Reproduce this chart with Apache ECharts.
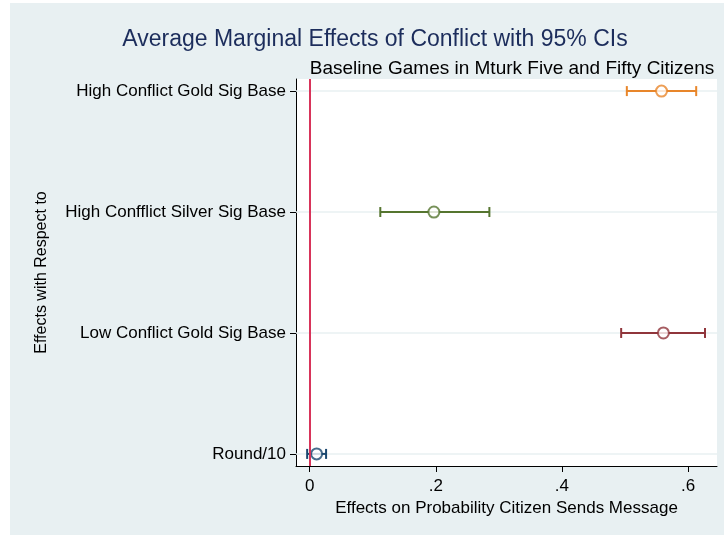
<!DOCTYPE html>
<html>
<head>
<meta charset="UTF-8">
<title>Average Marginal Effects</title>
<script src="https://cdn.jsdelivr.net/npm/echarts@6/dist/echarts.min.js"></script>
<style>
html, body { margin: 0; padding: 0; background: #fff; }
#chart { width: 724px; height: 535px; }
</style>
</head>
<body>
<div id="chart"></div>
<script type="text/javascript">
// categories, top to bottom (y positions 1..4)
var categories = ['High Conflict Gold Sig Base', 'High Confflict Silver Sig Base', 'Low Conflict Gold Sig Base', 'Round/10'];
var positions = [1, 2, 3, 4];
var estimates = [0.558, 0.197, 0.561, 0.011];
var lowerCI = [0.503, 0.112, 0.494, -0.004];
var upperCI = [0.613, 0.285, 0.627, 0.026];
var xTicks = [0, 0.2, 0.4, 0.6];
var xTickLabels = ['0', '.2', '.4', '.6'];
var colors = ['#e8862a', '#55752f', '#90353b', '#1a476f'];

var font = 'Liberation Sans, Arial, Helvetica, sans-serif';
var myChart = echarts.init(document.getElementById('chart'));

var barData = [];
var pointData = [];
for (var i = 0; i < categories.length; i++) {
	barData.push({ value: [positions[i], lowerCI[i], upperCI[i]], itemStyle: { color: colors[i] } });
	pointData.push({ value: [estimates[i], positions[i]], itemStyle: { borderColor: colors[i] } });
}

var option = {
	backgroundColor: '#fff',
	animation: false,
	graphic: [{
		type: 'rect',
		left: 10, top: 3,
		shape: { width: 714, height: 532 },
		style: { fill: '#e8f0f2' },
		z: -10
	}],
	title: [{
		text: 'Average Marginal Effects of Conflict with 95% CIs',
		left: 370, top: 23, textAlign: 'center',
		textStyle: { fontFamily: font, fontSize: 23, fontWeight: 'normal', color: '#1c2d5c' }
	}, {
		text: 'Baseline Games in Mturk Five and Fifty Citizens',
		left: 507, top: 54, textAlign: 'center',
		textStyle: { fontFamily: font, fontSize: 19, fontWeight: 'normal', color: '#000' }
	}],
	grid: {
		left: 296, right: 7, top: 79, bottom: 69,
		show: true, backgroundColor: '#fff', borderWidth: 0
	},
	xAxis: {
		type: 'value',
		min: -0.0217, max: 0.646,
		name: 'Effects on Probability Citizen Sends Message',
		nameLocation: 'middle', nameGap: 32,
		nameTextStyle: { fontFamily: font, fontSize: 17, color: '#000' },
		axisLine: { show: true, onZero: false, lineStyle: { color: '#000', width: 1 } },
		axisTick: { show: true, length: 6, customValues: xTicks, lineStyle: { color: '#000' } },
		axisLabel: {
			customValues: xTicks, margin: 12,
			fontFamily: font, fontSize: 17, color: '#000',
			formatter: function (v) {
				var k = xTicks.indexOf(v);
				return k >= 0 ? xTickLabels[k] : '';
			}
		},
		splitLine: { show: false }
	},
	yAxis: {
		type: 'value',
		inverse: true,
		min: 0.9, max: 4.1,
		name: 'Effects with Respect to',
		nameLocation: 'middle', nameGap: 246,
		nameTextStyle: { fontFamily: font, fontSize: 16, color: '#000' },
		axisLine: { show: true, onZero: false, lineStyle: { color: '#000', width: 1 } },
		axisTick: { show: true, length: 6, customValues: positions, lineStyle: { color: '#000' } },
		axisLabel: {
			customValues: positions, margin: 10,
			fontFamily: font, fontSize: 17, color: '#000',
			formatter: function (v) {
				var k = positions.indexOf(v);
				return k >= 0 ? categories[k] : '';
			}
		},
		splitLine: { show: false }
	},
	series: [{
		type: 'custom',
		z: 2,
		encode: { x: [1, 2], y: 0 },
		data: barData,
		renderItem: function (params, api) {
			var y = api.value(0);
			var a = api.coord([api.value(1), y]);
			var b = api.coord([api.value(2), y]);
			var cap = 5;
			var st = { stroke: api.visual('color'), lineWidth: 2 };
			return {
				type: 'group',
				children: [
					{ type: 'line', shape: { x1: a[0], y1: a[1], x2: b[0], y2: b[1] }, style: st },
					{ type: 'line', shape: { x1: a[0], y1: a[1] - cap, x2: a[0], y2: a[1] + cap }, style: st },
					{ type: 'line', shape: { x1: b[0], y1: b[1] - cap, x2: b[0], y2: b[1] + cap }, style: st }
				]
			};
		},
		markLine: {
			silent: true, symbol: 'none', z: 1,
			label: { show: false },
			lineStyle: { color: '#e8f0f2', width: 1.5, type: 'solid' },
			data: positions.map(function (p) { return { yAxis: p }; })
		}
	}, {
		type: 'scatter',
		z: 4,
		symbol: 'circle',
		symbolSize: 11,
		itemStyle: { color: '#fff', borderWidth: 2 },
		data: pointData,
		markLine: {
			silent: true, symbol: 'none',
			label: { show: false },
			lineStyle: { color: '#d8345a', width: 2, type: 'solid' },
			data: [{ xAxis: 0 }]
		}
	}]
};
myChart.setOption(option);
</script>
</body>
</html>
